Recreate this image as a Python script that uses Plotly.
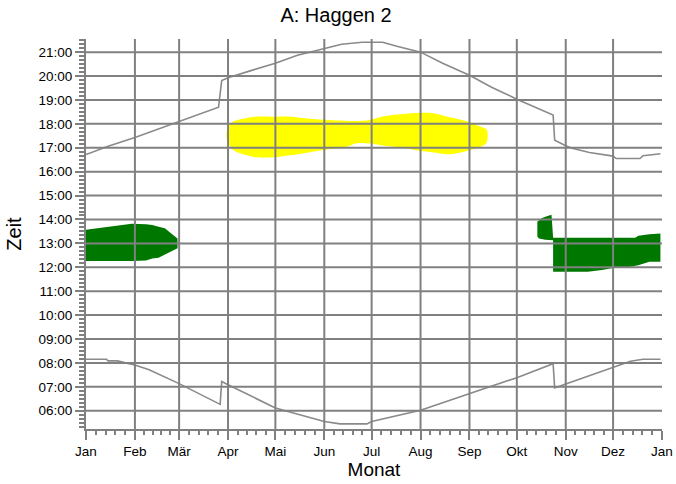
import plotly.graph_objects as go
import pandas as pd

YEAR = 2023

# ---- axis ticks ----
month_labels = ["Jan", "Feb", "Mär", "Apr", "Mai", "Jun", "Jul",
                "Aug", "Sep", "Okt", "Nov", "Dez", "Jan"]
month_ticks = [f"{YEAR}-{m:02d}-01" for m in range(1, 13)] + [f"{YEAR + 1}-01-01"]
hour_ticks = list(range(6, 22))
hour_labels = [f"{h:02d}:00" for h in hour_ticks]

# ---- sunset (upper grey line) ----
sunset_dates = ["01-01", "01-15", "02-01", "02-15", "03-01", "03-15", "03-26",
                "03-28", "04-01", "04-15", "05-01", "05-15", "06-01", "06-12",
                "06-25", "07-08", "07-17", "08-01", "08-15", "09-01", "09-15",
                "10-01", "10-24", "10-25", "11-01", "11-05", "11-16", "12-01",
                "12-03", "12-18", "12-20", "12-28", "12-31"]
sunset_times = ["16:43", "17:04", "17:26", "17:46", "18:07", "18:26", "18:42",
                "19:49", "19:56", "20:13", "20:32", "20:52", "21:08", "21:20",
                "21:25", "21:25", "21:15", "21:00", "20:32", "20:02", "19:32",
                "19:02", "18:22", "17:19", "17:05", "16:59", "16:48", "16:39",
                "16:33", "16:33", "16:40", "16:44", "16:45"]

# ---- sunrise (lower grey line) ----
sunrise_dates = ["01-01", "01-14", "01-15", "01-21", "01-26", "02-01", "02-10",
                 "03-01", "03-27", "03-28", "04-01", "05-01", "06-01", "06-11",
                 "06-28", "07-01", "08-01", "09-01", "10-01", "10-24", "10-25",
                 "11-01", "12-01", "12-12", "12-20", "12-31"]
sunrise_times = ["08:09", "08:09", "08:05", "08:05", "08:00", "07:55", "07:43",
                 "07:08", "06:16", "07:13", "07:05", "06:07", "05:33", "05:27",
                 "05:27", "05:33", "06:01", "06:42", "07:23", "07:58", "06:57",
                 "07:07", "07:49", "08:04", "08:09", "08:09"]

# ---- yellow glare period (outline: upper edge then lower edge back) ----
yellow_dates = ["03-31", "04-02", "04-04", "04-08", "04-13", "04-18", "04-30",
                "05-10", "05-23", "06-04", "06-14", "06-21", "06-30", "07-09",
                "07-19", "07-29", "08-08", "08-19", "08-27", "09-02", "09-06",
                "09-10", "09-12"]
yellow_top = ["17:40", "17:58", "18:05", "18:11", "18:15", "18:18", "18:18",
              "18:18", "18:13", "18:10", "18:08", "18:07", "18:10", "18:19",
              "18:24", "18:27", "18:27", "18:17", "18:10", "18:03", "17:56",
              "17:50", "17:45"]
yellow_bottom = ["17:24", "17:05", "16:55", "16:47", "16:41", "16:36", "16:36",
                 "16:41", "16:49", "16:56", "17:01", "17:11", "17:11", "17:05",
                 "17:01", "16:54", "16:49", "16:44", "16:49", "16:55", "16:59",
                 "17:06", "17:14"]

# ---- green glare period, winter start ----
green1_dates = ["01-01", "01-14", "01-30", "02-08", "02-12", "02-16", "02-20",
                "02-24", "02-26", "02-28"]
green1_top = ["13:34", "13:41", "13:49", "13:48", "13:46", "13:42", "13:38",
              "13:25", "13:18", "13:12"]
green1_bottom = ["12:16", "12:16", "12:16", "12:17", "12:22", "12:24", "12:30",
                 "12:40", "12:44", "12:48"]

# ---- green glare period, autumn/winter (outline points in drawing order) ----
green2_dates = ["10-14", "10-15", "10-17", "10-20", "10-23", "10-24", "12-15",
                "12-17", "12-24", "12-31", "12-31", "12-24", "12-17", "12-11",
                "12-01", "11-24", "11-15", "10-24", "10-24", "10-19", "10-15",
                "10-14"]
green2_times = ["13:54", "13:58", "14:04", "14:08", "14:12", "13:14", "13:14",
                "13:19", "13:23", "13:25", "12:14", "12:14", "12:05", "12:01",
                "11:58", "11:53", "11:49", "11:49", "13:08", "13:09", "13:12",
                "13:17"]


def to_date(md):
    return f"{YEAR}-{md}"


def to_hours(t):
    h, m = t.split(":")
    return int(h) + int(m) / 60.0


GRID = "#808080"
LINE = "#8a8a8a"
YELLOW = "#FFFF00"
GREEN = "#007800"
FONT = "Liberation Sans, Arial, sans-serif"

W, H = 676, 484

fig = go.Figure()

# yellow blob
fig.add_trace(go.Scatter(
    x=[to_date(d) for d in yellow_dates] + [to_date(d) for d in yellow_dates[::-1]],
    y=[to_hours(t) for t in yellow_top] + [to_hours(t) for t in yellow_bottom[::-1]],
    mode="lines", fill="toself", fillcolor=YELLOW, line=dict(width=0, color=YELLOW),
    line_shape="spline", hoverinfo="skip", showlegend=False))

# green blob 1
fig.add_trace(go.Scatter(
    x=[to_date(d) for d in green1_dates] + [to_date(d) for d in green1_dates[::-1]],
    y=[to_hours(t) for t in green1_top] + [to_hours(t) for t in green1_bottom[::-1]],
    mode="lines", fill="toself", fillcolor=GREEN, line=dict(width=0, color=GREEN),
    hoverinfo="skip", showlegend=False))

# green blob 2
fig.add_trace(go.Scatter(
    x=[to_date(d) for d in green2_dates],
    y=[to_hours(t) for t in green2_times],
    mode="lines", fill="toself", fillcolor=GREEN, line=dict(width=0, color=GREEN),
    hoverinfo="skip", showlegend=False))

# sunset / sunrise lines
fig.add_trace(go.Scatter(
    x=[to_date(d) for d in sunset_dates], y=[to_hours(t) for t in sunset_times],
    mode="lines", line=dict(color=LINE, width=1.6), showlegend=False))
fig.add_trace(go.Scatter(
    x=[to_date(d) for d in sunrise_dates], y=[to_hours(t) for t in sunrise_times],
    mode="lines", line=dict(color=LINE, width=1.6), showlegend=False))

# grid lines drawn above the filled areas (as in the reference)
for d in month_ticks[1:-1]:
    fig.add_vline(x=d, line=dict(color=GRID, width=2), layer="above")
for h in hour_ticks:
    fig.add_hline(y=h, line=dict(color=GRID, width=2), layer="above")

# minor ticks: each month split into 5 parts
minor_x = []
for a, b in zip(month_ticks[:-1], month_ticks[1:]):
    ta, tb = pd.Timestamp(a), pd.Timestamp(b)
    for k in range(1, 5):
        minor_x.append((ta + (tb - ta) * k / 5).strftime("%Y-%m-%d %H:%M"))

fig.update_layout(
    width=W, height=H,
    margin=dict(l=86, r=14, t=38.5, b=55, autoexpand=False),
    paper_bgcolor="white", plot_bgcolor="white",
    font=dict(family=FONT, color="black"),
    title=dict(text="A: Haggen 2", x=0.5 - 2 / W, xref="container", xanchor="center",
               y=1 - 15 / H, yref="container", yanchor="middle",
               font=dict(size=20, family=FONT, color="black")),
    showlegend=False,
)

fig.update_xaxes(
    type="date", range=[month_ticks[0], month_ticks[-1]], automargin=False,
    tickmode="array", tickvals=month_ticks, ticktext=month_labels,
    ticklabeloverflow="allow",
    showgrid=False, zeroline=False,
    showline=True, linecolor=GRID, linewidth=2,
    ticks="outside", ticklen=9, tickwidth=1.5, tickcolor=GRID,
    tickfont=dict(size=13.5, family=FONT, color="black"),
    minor=dict(tickmode="array", tickvals=minor_x, ticks="outside",
               ticklen=4, tickwidth=1.5, tickcolor=GRID, showgrid=False),
    title=dict(text="Monat", font=dict(size=19, family=FONT, color="black"),
               standoff=4),
    layer="above traces",
)

fig.update_yaxes(
    range=[5.235, 21.55], automargin=False,
    tickmode="array", tickvals=hour_ticks, ticktext=hour_labels,
    showgrid=False, zeroline=False,
    showline=True, linecolor=GRID, linewidth=2,
    ticks="outside", ticklen=9, tickwidth=1.5, tickcolor=GRID,
    tickfont=dict(size=13.5, family=FONT, color="black"),
    minor=dict(tickmode="linear", tick0=0, dtick=1 / 6, ticks="outside",
               ticklen=5, tickwidth=1.5, tickcolor=GRID, showgrid=False),
    title=dict(text="Zeit", font=dict(size=20, family=FONT, color="black"),
               standoff=12),
    layer="above traces",
)

fig.write_html(
    "out.html",
    config={"displayModeBar": False},
    post_script="document.body.style.margin='0';document.body.style.overflow='hidden';",
)
